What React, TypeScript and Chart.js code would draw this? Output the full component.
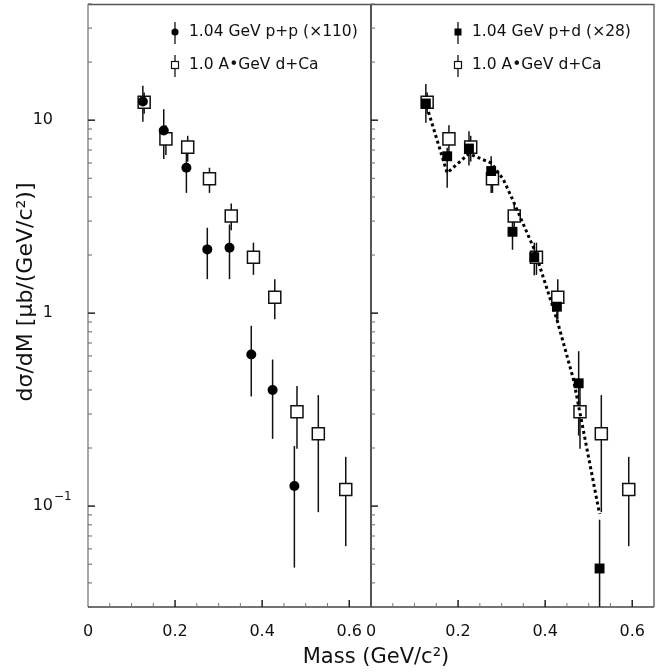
import React, { useEffect, useRef } from "react";
import { Chart, registerables } from "chart.js";

Chart.register(...registerables);

// ---------- data ----------
const xMin = 0;
const xMax = 0.65;
const yMin = 0.03;
const yMax = 40;

const xTickStep = 0.05;
const xLabelStep = 0.2;

const yLabelValues = [10, 1, 0.1];
const yLabelBase = ["10", "1", "10"];
const yLabelExp = ["", "", "\u22121"];

// 1.04 GeV p+p (x110)
const ppMass = [0.126, 0.174, 0.226, 0.274, 0.325, 0.375, 0.424, 0.474];
const ppValue = [12.5, 8.85, 5.67, 2.14, 2.18, 0.61, 0.4, 0.127];
const ppLow = [9.8, 6.3, 4.2, 1.5, 1.5, 0.37, 0.223, 0.048];
const ppHigh = [15.1, 11.4, 7.0, 2.77, 2.88, 0.86, 0.575, 0.205];

// 1.0 A GeV d+Ca
const dcaMass = [0.129, 0.179, 0.229, 0.279, 0.329, 0.38, 0.429, 0.48, 0.529, 0.592];
const dcaValue = [12.4, 8.0, 7.25, 4.97, 3.19, 1.95, 1.21, 0.308, 0.237, 0.122];
const dcaLow = [10.8, 6.6, 6.1, 4.2, 2.69, 1.58, 0.93, 0.198, 0.093, 0.062];
const dcaHigh = [13.9, 9.4, 8.3, 5.67, 3.7, 2.32, 1.5, 0.419, 0.376, 0.18];

// 1.04 GeV p+d (x28)
const pdMass = [0.126, 0.175, 0.225, 0.276, 0.325, 0.375, 0.427, 0.477, 0.525];
const pdValue = [12.2, 6.5, 7.13, 5.45, 2.64, 1.95, 1.08, 0.433, 0.0475];
const pdLow = [9.7, 4.47, 5.82, 4.2, 2.13, 1.57, 0.9, 0.232, 0.02];
const pdHigh = [15.4, 7.2, 8.77, 6.5, 3.1, 2.32, 1.25, 0.635, 0.085];

// dotted curve (right panel)
const curveMass = [0.128, 0.175, 0.225, 0.276, 0.304, 0.327, 0.375, 0.427, 0.465, 0.525];
const curveValue = [11.8, 5.33, 6.7, 6.0, 4.93, 3.8, 2.14, 0.927, 0.454, 0.091];

const labelPP = "1.04 GeV p+p (\u00d7110)";
const labelPD = "1.04 GeV p+d (\u00d728)";
const labelDCa = "1.0 A\u2022GeV d+Ca";

const xTitle = "Mass (GeV/c\u00b2)";
const yTitle = "d\u03c3/dM [\u03bcb/(GeV/c\u00b2)]";

const FONT = "'DejaVu Sans', 'Liberation Sans', sans-serif";

const pts = (xs: number[], ys: number[]) => xs.map((x, i) => ({ x, y: ys[i] }));

export default function App() {
  const ref = useRef<HTMLCanvasElement>(null);

  useEffect(() => {
    const canvas = ref.current;
    if (!canvas) return;

    const errorBars = {
      id: "errorBars",
      beforeDatasetsDraw(chart: any) {
        const ctx = chart.ctx;
        const a = chart.chartArea;
        ctx.save();
        ctx.beginPath();
        ctx.rect(a.left, a.top, a.right - a.left, a.bottom - a.top);
        ctx.clip();
        chart.data.datasets.forEach((ds: any, i: number) => {
          if (!ds.errLow) return;
          const meta = chart.getDatasetMeta(i);
          const xs = chart.scales[meta.xAxisID];
          const ys = chart.scales.y;
          ds.data.forEach((p: any, j: number) => {
            const px = xs.getPixelForValue(p.x);
            ctx.strokeStyle = "#111";
            ctx.lineWidth = 1.5;
            ctx.beginPath();
            ctx.moveTo(px, ys.getPixelForValue(ds.errLow[j]));
            ctx.lineTo(px, ys.getPixelForValue(ds.errHigh[j]));
            ctx.stroke();
          });
        });
        ctx.restore();
      },
    };

    const decor = {
      id: "decor",
      afterDraw(chart: any) {
        const ctx = chart.ctx;
        const { left, right, top, bottom } = chart.chartArea;
        const x1 = chart.scales.x1;
        const x2 = chart.scales.x2;
        const y = chart.scales.y;
        const mid = x2.left;
        const line = (ax: number, ay: number, bx: number, by: number, c: string, w: number) => {
          ctx.strokeStyle = c;
          ctx.lineWidth = w;
          ctx.beginPath();
          ctx.moveTo(ax, ay);
          ctx.lineTo(bx, by);
          ctx.stroke();
        };
        ctx.save();
        // frame
        line(left, top, left, bottom, "#a8a8a8", 2);
        line(left, top + 0.5, right, top + 0.5, "#555", 1.5);
        line(mid, top, mid, bottom, "#555", 2);
        line(right, top, right, bottom, "#6a6a6a", 1.5);
        line(left, bottom, right, bottom, "#444", 1.5);

        // x ticks (inward)
        [x1, x2].forEach((s: any) => {
          const n = Math.round((xMax - xMin) / xTickStep);
          for (let k = 1; k <= n; k++) {
            const v = xMin + k * xTickStep;
            const px = s.getPixelForValue(v);
            if (px >= s.right - 1) continue;
            const r = v / xLabelStep;
            const major = Math.abs(r - Math.round(r)) < 1e-6;
            line(px, bottom, px, bottom - (major ? 7 : 4), major ? "#222" : "#777", major ? 1.5 : 1);
          }
        });

        // y ticks (inward, on both panels)
        for (let e = -2; e <= 1; e++) {
          for (let m = 1; m <= 9; m++) {
            const v = m * Math.pow(10, e);
            if (v < yMin || v > yMax) continue;
            const py = y.getPixelForValue(v);
            const major = m === 1;
            const len = major ? 7 : 4;
            line(left, py, left + len, py, major ? "#222" : "#666", major ? 1.5 : 1);
            line(mid, py, mid + len, py, major ? "#222" : "#666", major ? 1.5 : 1);
          }
        }

        // y labels
        ctx.fillStyle = "#111";
        yLabelValues.forEach((v, i) => {
          const py = y.getPixelForValue(v);
          ctx.font = `16px ${FONT}`;
          ctx.textAlign = "right";
          ctx.textBaseline = "middle";
          ctx.fillText(yLabelBase[i], left - 35, py);
          if (yLabelExp[i]) {
            ctx.font = `12px ${FONT}`;
            ctx.textAlign = "left";
            ctx.fillText(yLabelExp[i], left - 34, py - 9);
          }
        });

        // legends
        const legend = (mx: number, my: number, kind: string, text: string) => {
          line(mx, my - 10, mx, my + 12, "#111", 1.3);
          ctx.lineWidth = 1.2;
          if (kind === "circle") {
            ctx.fillStyle = "#000";
            ctx.beginPath();
            ctx.arc(mx, my, 3.6, 0, Math.PI * 2);
            ctx.fill();
          } else if (kind === "fill") {
            ctx.fillStyle = "#000";
            ctx.fillRect(mx - 3.5, my - 3.5, 7, 7);
          } else {
            ctx.fillStyle = "#fff";
            ctx.fillRect(mx - 3.5, my - 3.5, 7, 7);
            ctx.strokeStyle = "#111";
            ctx.strokeRect(mx - 3.5, my - 3.5, 7, 7);
          }
          ctx.fillStyle = "#111";
          ctx.font = `15.5px ${FONT}`;
          ctx.textAlign = "left";
          ctx.textBaseline = "middle";
          ctx.fillText(text, mx + 14, my);
        };
        legend(x1.left + 87, top + 28, "circle", labelPP);
        legend(x1.left + 87, top + 61, "open", labelDCa);
        legend(x2.left + 87, top + 28, "fill", labelPD);
        legend(x2.left + 87, top + 61, "open", labelDCa);

        // axis titles
        ctx.fillStyle = "#111";
        ctx.font = `21px ${FONT}`;
        ctx.textAlign = "center";
        ctx.textBaseline = "middle";
        ctx.fillText(xTitle, mid + 5, bottom + 51);

        ctx.save();
        ctx.translate(26, 292);
        ctx.rotate(-Math.PI / 2);
        ctx.font = `22px ${FONT}`;
        ctx.textAlign = "center";
        ctx.textBaseline = "middle";
        ctx.fillText(yTitle, 0, 0);
        ctx.restore();

        ctx.restore();
      },
    };

    const xScale = (stack: string) => ({
      type: "linear",
      position: "bottom",
      stack,
      stackWeight: 1,
      min: xMin,
      max: xMax,
      grid: { display: false },
      border: { display: false },
      ticks: {
        stepSize: xTickStep,
        autoSkip: false,
        maxRotation: 0,
        minRotation: 0,
        includeBounds: false,
        padding: 7,
        color: "#111",
        font: { family: FONT, size: 16 },
        callback: (value: any) => {
          const v = Number(value);
          const r = v / xLabelStep;
          if (Math.abs(r - Math.round(r)) > 1e-6) return "";
          return v === 0 ? "0" : v.toFixed(1);
        },
      },
      afterFit: (s: any) => {
        s.height = 65;
      },
    });

    const chart = new Chart(canvas, {
      type: "scatter",
      data: {
        datasets: [
          {
            type: "line",
            label: "curve",
            xAxisID: "x2",
            data: pts(curveMass, curveValue),
            borderColor: "#000",
            borderWidth: 3,
            borderDash: [3, 3],
            pointRadius: 0,
            showLine: true,
            tension: 0,
            fill: false,
          },
          {
            label: labelPD,
            xAxisID: "x2",
            data: pts(pdMass, pdValue),
            errLow: pdLow,
            errHigh: pdHigh,
            pointStyle: "rect",
            pointRadius: 7,
            backgroundColor: "#000",
            borderColor: "#000",
            borderWidth: 0,
          },
          {
            label: labelPP,
            xAxisID: "x1",
            data: pts(ppMass, ppValue),
            errLow: ppLow,
            errHigh: ppHigh,
            pointStyle: "circle",
            pointRadius: 5,
            backgroundColor: "#000",
            borderColor: "#000",
            borderWidth: 0,
          },
          {
            label: labelDCa,
            xAxisID: "x1",
            data: pts(dcaMass, dcaValue),
            errLow: dcaLow,
            errHigh: dcaHigh,
            pointStyle: "rect",
            pointRadius: 8.5,
            backgroundColor: "#fff",
            borderColor: "#111",
            borderWidth: 1.5,
          },
          {
            label: labelDCa,
            xAxisID: "x2",
            data: pts(dcaMass, dcaValue),
            errLow: dcaLow,
            errHigh: dcaHigh,
            pointStyle: "rect",
            pointRadius: 8.5,
            backgroundColor: "#fff",
            borderColor: "#111",
            borderWidth: 1.5,
          },
        ] as any,
      },
      options: {
        animation: false,
        responsive: false,
        maintainAspectRatio: false,
        layout: { autoPadding: false, padding: { left: 0, right: 8, top: 4, bottom: 0 } },
        plugins: { legend: { display: false }, tooltip: { enabled: false } },
        scales: {
          x1: xScale("x") as any,
          x2: xScale("x") as any,
          y: {
            type: "logarithmic",
            position: "left",
            min: yMin,
            max: yMax,
            grid: { display: false },
            border: { display: false },
            ticks: { display: false },
            afterFit: (s: any) => {
              s.width = 88;
            },
          } as any,
        },
      } as any,
      plugins: [errorBars, decor],
    });

    return () => chart.destroy();
  }, []);

  return (
    <div style={{ position: "fixed", left: 0, top: 0, width: 662, height: 672, background: "#fff" }}>
      <canvas ref={ref} width={662} height={672} style={{ display: "block", width: 662, height: 672 }} />
    </div>
  );
}
